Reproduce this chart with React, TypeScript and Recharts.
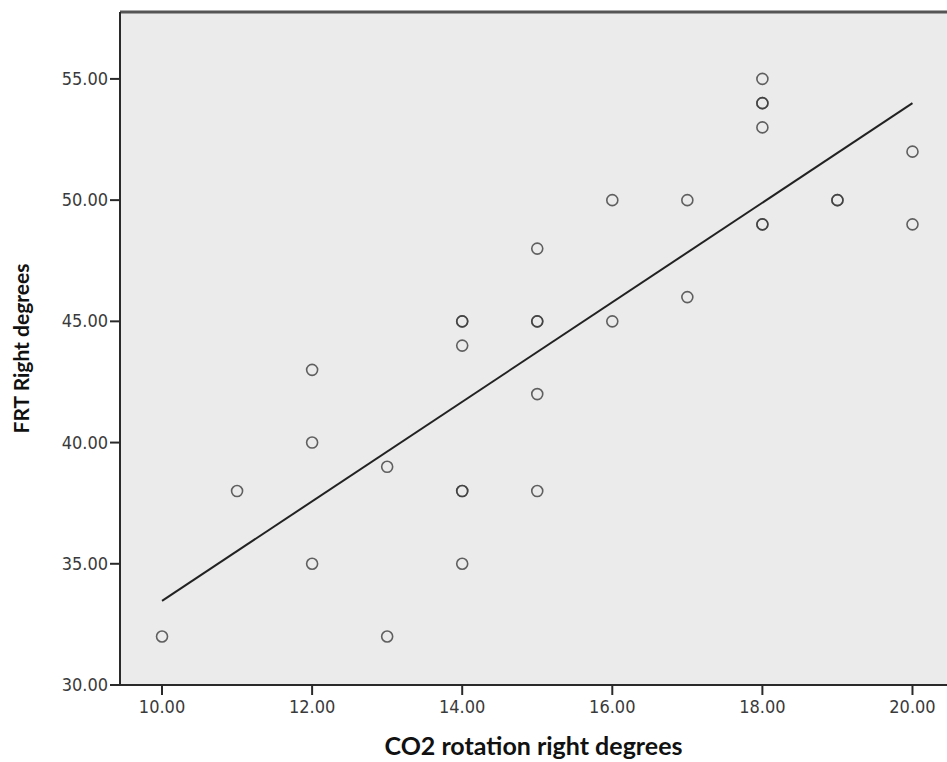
import { CartesianGrid, ReferenceLine, Scatter, ScatterChart, XAxis, YAxis } from "recharts";

// CO2 rotation (x) vs FRT (y), repeated pairs are overlapping cases
const co2 = [10, 11, 12, 12, 12, 13, 13, 14, 14, 14, 14, 14, 14, 15, 15, 15, 15, 15, 16, 16, 17, 17, 18, 18, 18, 18, 18, 18, 19, 19, 20, 20];
const frt = [32, 38, 43, 40, 35, 39, 32, 45, 45, 44, 38, 38, 35, 48, 45, 45, 42, 38, 50, 45, 50, 46, 55, 54, 54, 53, 49, 49, 50, 50, 52, 49];

const fitX = [10, 20];
const fitY = [33.47, 54.0];

const xTicks = [10, 12, 14, 16, 18, 20];
const yTicks = [30, 35, 40, 45, 50, 55];

const X_DOMAIN: [number, number] = [9.44, 20.46];
const Y_DOMAIN: [number, number] = [30, 57.76];

const points = co2.map((x, i) => ({ x, y: frt[i] }));

const TICK_FONT = { fontFamily: "'DejaVu Sans Condensed', 'DejaVu Sans', sans-serif", fontSize: 18, fill: "#3a3a3a" };
const yLabelStyle = { fontFamily: "Lato, 'Open Sans', sans-serif", fontSize: 21, fontWeight: 700, fill: "#111" };
const xLabelStyle = { ...yLabelStyle, fontSize: 25 };

const XTick = (props: any) => {
  const { x, y, payload } = props;
  return (
    <text x={x} y={y} dy={15} textAnchor="middle" fontFamily={TICK_FONT.fontFamily} fontSize={TICK_FONT.fontSize} fill={TICK_FONT.fill}>
      {Number(payload.value).toFixed(2)}
    </text>
  );
};

const YTick = (props: any) => {
  const { x, y, payload } = props;
  return (
    <text x={x} y={y} dy={6} textAnchor="end" fontFamily={TICK_FONT.fontFamily} fontSize={TICK_FONT.fontSize} fill={TICK_FONT.fill}>
      {Number(payload.value).toFixed(2)}
    </text>
  );
};

const Ring = (props: any) => {
  const { cx, cy } = props;
  return <circle cx={cx} cy={cy} r={5.5} fill="none" stroke="#3c3c3c" strokeOpacity={0.8} strokeWidth={1.6} />;
};

export default function App() {
  return (
    <div style={{ position: "absolute", left: 0, top: 0, background: "#fff" }}>
      <ScatterChart width={947} height={762} margin={{ top: 12, right: 0, bottom: 0, left: 0 }}>
        <CartesianGrid horizontal={false} vertical={false} fill="#ebebeb" />
        <XAxis
          type="number"
          dataKey="x"
          domain={X_DOMAIN}
          ticks={xTicks}
          height={77}
          tickSize={10}
          tickMargin={3}
          tick={<XTick />}
          axisLine={{ stroke: "#2a2a2a", strokeWidth: 2 }}
          tickLine={{ stroke: "#2a2a2a", strokeWidth: 2 }}
          label={{ value: "CO2 rotation right degrees", position: "center", dy: 23, style: xLabelStyle }}
        />
        <YAxis
          type="number"
          dataKey="y"
          domain={Y_DOMAIN}
          ticks={yTicks}
          width={120}
          tickSize={10}
          tickMargin={2}
          tick={<YTick />}
          axisLine={{ stroke: "#2a2a2a", strokeWidth: 2 }}
          tickLine={{ stroke: "#2a2a2a", strokeWidth: 2 }}
          label={{ value: "FRT Right degrees", angle: -90, position: "center", dx: -38, style: yLabelStyle }}
        />
        <ReferenceLine y={Y_DOMAIN[1]} stroke="#555" strokeWidth={3} ifOverflow="visible" />
        <ReferenceLine
          segment={[
            { x: fitX[0], y: fitY[0] },
            { x: fitX[1], y: fitY[1] },
          ]}
          stroke="#222"
          strokeWidth={2}
          ifOverflow="visible"
        />
        <Scatter data={points} shape={Ring} isAnimationActive={false} />
      </ScatterChart>
    </div>
  );
}
